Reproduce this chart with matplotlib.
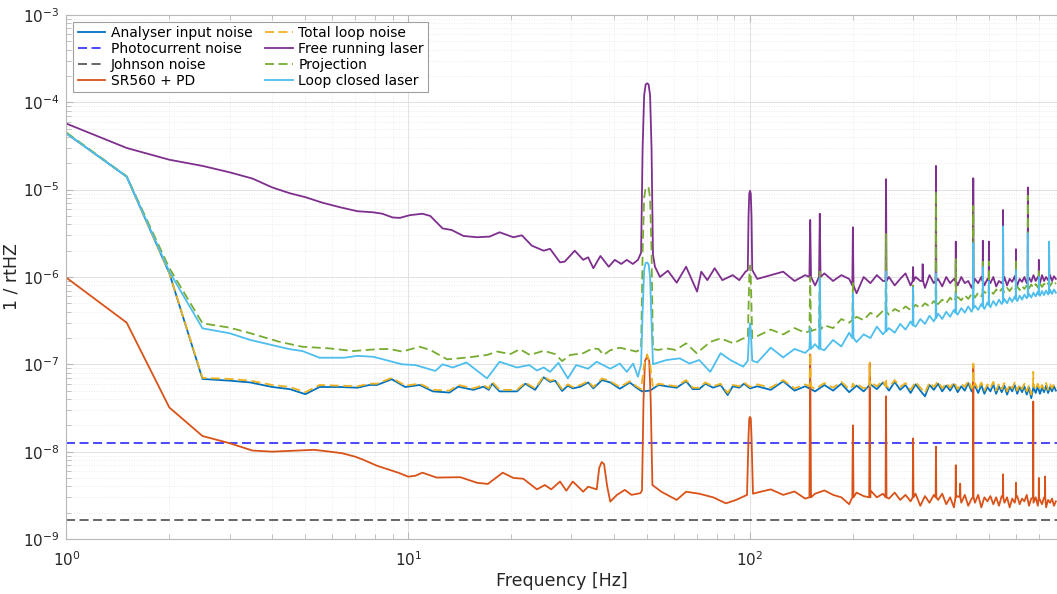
import numpy as np
import matplotlib
matplotlib.use('Agg')
import matplotlib.pyplot as plt
from matplotlib.ticker import LogLocator, NullFormatter

# ---- data (Hz, 1/rtHz) ----
# common grid for the dense high-frequency part (values typed per series)
f_hi = np.arange(105, 790, 10)

# Free running laser
free_f = [1, 1.5, 2, 2.5, 3, 3.5, 4, 4.5, 5, 5.6,
          6.3, 7.1, 7.9, 8.4, 9, 9.45, 10.1, 11, 11.6, 12.6,
          13.4, 14.5, 15.9, 17.3, 18.5, 20.3, 21.5, 23, 24.9, 26,
          27.8, 28.7, 30.7, 32.5, 33.6, 34.8, 36.5, 38.6, 40.2, 42,
          43.6, 45.4, 47, 48, 48.5, 49, 49.5, 50, 50.5, 51,
          51.5, 52, 52.7, 54.5, 57.5, 61, 65, 70, 72, 75,
          78.8, 83, 89, 93, 97, 98.5, 99, 99.5, 100, 100.5,
          101, 101.5]
free_v = [5.7e-5, 3.0e-5, 2.2e-5, 1.87e-5, 1.58e-5, 1.34e-5, 1.06e-5, 9.1e-6, 8.2e-6, 7.1e-6,
          6.3e-6, 5.66e-6, 5.5e-6, 5.3e-6, 4.8e-6, 4.75e-6, 5.1e-6, 5.3e-6, 5.0e-6, 3.6e-6,
          3.45e-6, 2.95e-6, 2.85e-6, 2.9e-6, 3.25e-6, 2.85e-6, 3.0e-6, 2.28e-6, 2.0e-6, 2.1e-6,
          1.47e-6, 1.5e-6, 2.0e-6, 1.57e-6, 1.68e-6, 1.26e-6, 1.74e-6, 1.31e-6, 1.57e-6, 1.41e-6,
          1.57e-6, 1.41e-6, 1.57e-6, 1.9e-6, 3e-5, 1.2e-4, 1.6e-4, 1.65e-4, 1.6e-4, 1.2e-4,
          3e-5, 1.8e-6, 1.31e-6, 1.0e-6, 1.18e-6, 8.6e-7, 1.31e-6, 6.8e-7, 1.15e-6, 9.2e-7,
          1.26e-6, 9.2e-7, 1.05e-6, 9.2e-7, 1.15e-6, 1.2e-6, 5e-6, 9e-6, 9.7e-6, 9e-6,
          5e-6, 1.2e-6]
free_hi = [9.5, 10.5, 11.5, 9.0, 10.5, 8.0, 11.0, 9.0, 10.5, 9.5,
           6.5, 10.0, 8.5, 10.5, 9.0, 10.0, 8.0, 9.5, 11.0, 8.0,
           10.0, 9.0, 7.5, 10.5, 8.5, 9.5, 7.8, 10.0, 8.5, 9.5,
           8.0, 10.0, 8.5, 9.0, 7.5, 9.5, 8.5, 10.0, 8.0, 9.5,
           8.5, 10.0, 7.8, 9.0, 8.5, 10.0, 8.0, 9.5, 8.8, 10.2,
           8.0, 9.5, 8.8, 10.0, 8.5, 9.8, 8.8, 10.5, 9.0, 10.0,
           8.5, 10.5, 9.0, 10.0, 9.2, 10.5, 9.0, 10.2, 9.5]  # x1e-7
free_pk_f = [150, 160, 200, 250, 300, 320, 350, 400, 450, 480, 500, 550, 600, 650, 700, 750]
free_pk_v = [4.5e-6, 5.3e-6, 3.7e-6, 1.32e-5, 1.3e-6, 1.4e-6, 1.87e-5, 2.54e-6,
             1.35e-5, 2.6e-6, 2.54e-6, 5.85e-6, 2.08e-6, 1.06e-5, 1.57e-6, 2.5e-6]
free_pk_floor = [1.0e-6, 1.0e-6, 8e-7, 9e-7, 9e-7, 9e-7, 9e-7, 9e-7,
                 8.5e-7, 9e-7, 9e-7, 9e-7, 9e-7, 9.5e-7, 9.5e-7, 9.5e-7]

# Projection
proj_f = [1, 1.5, 2, 2.5, 3, 3.45, 4.2, 4.9, 5.9, 6.9,
          8.1, 8.8, 9.6, 10.8, 11.6, 13, 15, 17, 18.2, 19.9,
          21.2, 22.7, 24.9, 26.9, 28.2, 29.8, 32.5, 34.6, 36, 37.3,
          39, 41.6, 44.5, 46.5, 48, 48.5, 49, 49.5, 50, 50.5,
          51, 51.5, 52, 53.7, 57, 60.6, 65, 69.8, 76.6, 82,
          89.4, 95.5, 98.5, 99.5, 100, 100.5, 101.5]
proj_v = [4.5e-5, 1.42e-5, 1.26e-6, 2.95e-7, 2.63e-7, 2.27e-7, 1.81e-7, 1.59e-7, 1.52e-7, 1.42e-7,
          1.49e-7, 1.5e-7, 1.4e-7, 1.59e-7, 1.46e-7, 1.14e-7, 1.2e-7, 1.28e-7, 1.4e-7, 1.31e-7,
          1.49e-7, 1.28e-7, 1.43e-7, 1.31e-7, 1.09e-7, 1.28e-7, 1.34e-7, 1.52e-7, 1.5e-7, 1.28e-7,
          1.45e-7, 1.55e-7, 1.46e-7, 1.4e-7, 1.5e-7, 2e-6, 8e-6, 1.05e-5, 1.08e-5, 1.05e-5,
          8e-6, 2e-6, 1.5e-7, 1.46e-7, 1.52e-7, 1.46e-7, 1.74e-7, 1.34e-7, 1.81e-7, 1.98e-7,
          1.74e-7, 1.98e-7, 2e-7, 1e-6, 1.35e-6, 1e-6, 2e-7]
proj_hi = [2.1, 2.5, 2.2, 2.6, 2.3, 2.5, 2.8, 2.6, 3.3, 3.0,
           3.5, 3.2, 3.9, 3.5, 4.1, 3.7, 4.3, 4.0, 4.6, 4.2,
           4.8, 4.4, 5.0, 4.6, 5.3, 4.9, 5.5, 5.0, 5.8, 5.2,
           5.9, 5.4, 6.2, 5.6, 6.4, 5.8, 6.6, 6.0, 6.8, 6.2,
           7.0, 6.4, 7.2, 6.6, 7.3, 6.7, 7.5, 6.9, 7.6, 7.0,
           7.8, 7.1, 7.9, 7.3, 8.0, 7.4, 8.2, 7.5, 8.3, 7.6,
           8.4, 7.7, 8.4, 7.8, 8.5, 7.9, 8.6, 8.0, 8.6]  # x1e-7
proj_pk_f = [150, 160, 200, 250, 300, 350, 400, 450, 480, 500, 550, 600, 650, 700, 750]
proj_pk_v = [1.0e-6, 1.15e-6, 8.5e-7, 3.1e-6, 8e-7, 9.5e-6, 1.6e-6, 6.5e-6,
             1.6e-6, 1.5e-6, 3.0e-6, 1.5e-6, 8.5e-6, 1.2e-6, 2.0e-6]
proj_pk_floor = [2.4e-7, 2.5e-7, 3.2e-7, 4e-7, 4.5e-7, 5e-7, 5.7e-7, 6.2e-7,
                 6.5e-7, 6.6e-7, 7e-7, 7.4e-7, 7.8e-7, 8.0e-7, 8.2e-7]

# Loop closed laser
closed_f = [1, 1.5, 2, 2.5, 3, 3.45, 4.5, 4.9, 5.5, 6.5,
            7.1, 7.9, 8.6, 9.6, 10.5, 12, 12.6, 13.5, 14.8, 17,
            18.5, 20.8, 22.6, 23.8, 24.9, 26, 27.5, 29.3, 31, 33.6,
            35.6, 39, 41.6, 43.6, 45.5, 47, 48, 48.5, 49, 49.5,
            50, 50.5, 51, 51.5, 52, 52.7, 57, 62.3, 66.5, 71,
            76.5, 82, 87.6, 95.5, 98.5, 99.5, 100, 100.5, 101.5]
closed_v = [4.4e-5, 1.41e-5, 1.15e-6, 2.58e-7, 2.27e-7, 1.9e-7, 1.49e-7, 1.42e-7, 1.19e-7, 1.19e-7,
            1.25e-7, 1.22e-7, 1.12e-7, 1.0e-7, 9.8e-8, 8.4e-8, 1.0e-7, 9.2e-8, 1.05e-7, 6.9e-8,
            1.07e-7, 9.2e-8, 9.8e-8, 8.5e-8, 9.2e-8, 8.2e-8, 1.04e-7, 6.9e-8, 9.8e-8, 8.9e-8,
            1.07e-7, 8.9e-8, 1.02e-7, 8.2e-8, 1.02e-7, 7.2e-8, 1.0e-7, 4e-7, 1.2e-6, 1.45e-6,
            1.46e-6, 1.4e-6, 1.0e-6, 3e-7, 1.0e-7, 1.02e-7, 1.12e-7, 1.17e-7, 1.02e-7, 1.12e-7,
            8.2e-8, 1.34e-7, 1.12e-7, 9.4e-8, 1.1e-7, 2.5e-7, 2.95e-7, 2.5e-7, 1.1e-7]
closed_hi = [1.05, 1.55, 1.2, 1.5, 1.35, 1.7, 1.45, 1.9, 1.6, 2.3,
             1.8, 2.2, 2.0, 2.7, 2.2, 2.6, 2.3, 2.9, 2.5, 3.1,
             2.7, 3.3, 2.9, 3.6, 3.1, 3.8, 3.3, 4.0, 3.5, 4.2,
             3.7, 4.4, 3.9, 4.6, 4.0, 4.7, 4.2, 4.9, 4.3, 5.1,
             4.5, 5.3, 4.7, 5.5, 4.9, 5.6, 5.0, 5.8, 5.2, 6.0,
             5.3, 6.1, 5.5, 6.3, 5.7, 6.4, 5.8, 6.6, 6.0, 6.8,
             6.1, 6.9, 6.2, 7.0, 6.3, 7.1, 6.4, 7.2, 6.6]  # x1e-7
closed_pk_f = [150, 160, 200, 250, 300, 350, 400, 450, 480, 500, 550, 600, 650, 700, 750]
closed_pk_v = [2.6e-7, 9.7e-7, 6.5e-7, 1.15e-6, 7.6e-7, 1.1e-6, 6.5e-7, 2.44e-6,
               1.3e-6, 9e-7, 3.8e-6, 1.2e-6, 3.16e-6, 1.0e-6, 2.54e-6]
closed_pk_floor = [1.5e-7, 1.5e-7, 2.0e-7, 2.4e-7, 2.8e-7, 3.4e-7, 3.9e-7, 4.4e-7,
                   4.6e-7, 4.8e-7, 5.2e-7, 5.6e-7, 6.0e-7, 6.3e-7, 6.6e-7]

# Analyser input noise
anal_f = [1, 1.5, 2, 2.5, 3, 3.45, 4, 4.5, 5, 5.5,
          6.3, 7.1, 7.7, 8.1, 8.95, 9.8, 10.8, 11.8, 13.2, 14,
          15.5, 16.6, 17.2, 17.6, 18.5, 20.8, 22, 23.5, 24.9, 26,
          26.9, 28.2, 29.3, 30.3, 31.9, 33.6, 34.8, 36.9, 39, 41.6,
          44.5, 46.5, 48.3, 51, 54, 57, 61, 65, 68, 71,
          74, 78, 82, 86, 89, 93, 96, 100]
anal_v = [4.4e-5, 1.41e-5, 1.1e-6, 6.8e-8, 6.5e-8, 6.2e-8, 5.5e-8, 5.2e-8, 4.55e-8, 5.5e-8,
          5.5e-8, 5.4e-8, 5.8e-8, 5.8e-8, 6.75e-8, 5.5e-8, 5.8e-8, 4.9e-8, 4.75e-8, 5.55e-8,
          5.1e-8, 5.55e-8, 5.1e-8, 6.0e-8, 4.9e-8, 4.9e-8, 6.0e-8, 5.1e-8, 7.1e-8, 6.3e-8,
          6.5e-8, 4.95e-8, 5.7e-8, 5.3e-8, 5.55e-8, 6.2e-8, 5.3e-8, 6.6e-8, 6.2e-8, 5.25e-8,
          6.2e-8, 5.4e-8, 4.9e-8, 5.0e-8, 5.8e-8, 5.6e-8, 5.4e-8, 6.4e-8, 5.2e-8, 5.2e-8,
          6.0e-8, 5.4e-8, 5.8e-8, 4.45e-8, 5.6e-8, 5.4e-8, 6.0e-8, 5.3e-8]
anal_hi = [5.6, 5.1, 6.4, 5.0, 5.6, 4.9, 5.8, 5.0, 6.0, 4.8,
           5.7, 4.9, 5.9, 5.2, 6.2, 5.0, 6.3, 5.1, 5.8, 4.7,
           5.9, 5.0, 4.3, 5.8, 5.1, 6.0, 4.9, 5.7, 5.0, 5.9,
           4.8, 5.6, 5.0, 6.1, 4.9, 5.7, 4.7, 5.8, 4.6, 5.5,
           4.9, 5.9, 4.6, 5.6, 4.8, 5.7, 4.5, 5.5, 4.9, 5.8,
           4.6, 5.5, 4.8, 5.6, 4.5, 5.4, 4.1, 5.5, 4.7, 5.6,
           4.6, 5.4, 4.8, 5.7, 4.7, 5.5, 4.9, 5.6, 5.0]  # x1e-8

# Total loop noise
total_f = [1, 1.5, 2, 2.5, 3, 3.45, 4, 4.5, 5, 5.5,
           6.3, 7.1, 7.7, 8.1, 8.95, 9.8, 10.8, 11.8, 13.2, 14,
           15.5, 16.6, 17.2, 17.6, 18.5, 20.8, 22, 23.5, 24.9, 26,
           26.9, 28.2, 29.3, 30.3, 31.9, 33.6, 34.8, 36.9, 39, 41.6,
           44.5, 46.5, 48, 49, 50, 51, 52, 54, 57, 61,
           65, 68, 71, 74, 78, 82, 86, 89, 93, 96, 100]
total_v = [4.4e-5, 1.41e-5, 1.1e-6, 7.0e-8, 6.8e-8, 6.5e-8, 5.8e-8, 5.5e-8, 4.8e-8, 5.8e-8,
           5.7e-8, 5.6e-8, 6.0e-8, 6.0e-8, 7.0e-8, 5.7e-8, 6.0e-8, 5.1e-8, 5.0e-8, 5.8e-8,
           5.3e-8, 5.8e-8, 5.3e-8, 6.3e-8, 5.1e-8, 5.1e-8, 6.2e-8, 5.3e-8, 7.3e-8, 6.5e-8,
           6.7e-8, 5.2e-8, 5.9e-8, 5.5e-8, 5.8e-8, 6.4e-8, 5.5e-8, 6.9e-8, 6.4e-8, 5.5e-8,
           6.4e-8, 5.6e-8, 5.2e-8, 1.0e-7, 1.3e-7, 1.0e-7, 5.4e-8, 6.0e-8, 5.8e-8, 5.6e-8,
           6.6e-8, 5.4e-8, 5.4e-8, 6.2e-8, 5.6e-8, 6.0e-8, 4.7e-8, 5.8e-8, 5.6e-8, 6.2e-8, 5.5e-8]
total_hi = [5.9, 5.4, 6.6, 5.3, 5.9, 5.2, 6.1, 5.4, 6.3, 5.2,
            6.0, 5.3, 6.3, 5.6, 6.5, 5.4, 6.6, 5.5, 6.1, 5.1,
            6.3, 5.4, 4.7, 6.2, 5.5, 6.4, 5.3, 6.1, 5.4, 6.3,
            5.2, 6.0, 5.5, 6.5, 5.3, 6.1, 5.1, 6.2, 5.0, 5.9,
            5.3, 6.3, 5.0, 6.0, 5.2, 6.1, 4.9, 5.9, 5.3, 6.2,
            5.0, 5.9, 5.2, 6.0, 4.9, 5.8, 4.5, 5.9, 5.1, 6.0,
            5.0, 5.8, 5.2, 6.1, 5.1, 5.9, 5.3, 6.0, 5.4]  # x1e-8
total_pk_f = [150, 200, 224, 250, 450, 674]
total_pk_v = [1.35e-7, 6e-8, 1.05e-7, 6.8e-8, 1.02e-7, 8.2e-8]
total_pk_floor = [5.6e-8, 5.6e-8, 5.6e-8, 5.6e-8, 5.6e-8, 5.6e-8]

# SR560 + PD
sr_f = [1, 1.5, 2, 2.5, 3, 3.5, 4, 4.7, 5.3, 5.9,
        6.4, 7, 7.4, 8.1, 8.8, 9.4, 10, 10.5, 11, 12.1,
        14.2, 15.9, 17.1, 18.9, 20.3, 21.7, 23.8, 25.1, 26.2, 27.8,
        29, 30.3, 32.5, 33.6, 35.6, 36.2, 36.8, 37.4, 38.2, 39,
        40.8, 43, 45, 47.8, 48.3, 48.8, 49.3, 50, 50.7, 51.2,
        51.8, 55, 61, 65, 71, 78, 85, 91, 98, 99,
        99.5, 100, 100.5, 101, 102]
sr_v = [9.8e-7, 3.0e-7, 3.2e-8, 1.51e-8, 1.25e-8, 1.03e-8, 1.0e-8, 1.03e-8, 1.05e-8, 1.0e-8,
        9.6e-9, 8.75e-9, 8.05e-9, 6.9e-9, 6.2e-9, 5.7e-9, 5.17e-9, 5.3e-9, 5.75e-9, 5.05e-9,
        5.1e-9, 4.4e-9, 4.27e-9, 5.75e-9, 5.0e-9, 4.9e-9, 3.7e-9, 4.15e-9, 3.7e-9, 4.55e-9,
        3.57e-9, 4.55e-9, 3.48e-9, 3.97e-9, 3.7e-9, 6.5e-9, 7.6e-9, 7.2e-9, 4.0e-9, 2.68e-9,
        3.2e-9, 3.65e-9, 3.2e-9, 3.35e-9, 3.6e-9, 4e-8, 1.1e-7, 1.22e-7, 1.1e-7, 4e-8,
        4.15e-9, 3.48e-9, 2.8e-9, 3.48e-9, 3.3e-9, 3.0e-9, 2.56e-9, 2.8e-9, 3.2e-9, 1.5e-8,
        2.4e-8, 2.5e-8, 2.4e-8, 1.5e-8, 3.3e-9]
sr_hi = [3.4, 3.7, 3.2, 3.5, 2.9, 3.3, 3.6, 3.2, 3.0, 2.5,
         3.4, 3.1, 3.6, 3.0, 3.3, 2.9, 3.4, 2.8, 3.2, 2.7,
         3.3, 2.4, 3.1, 2.6, 3.2, 2.8, 3.3, 2.5, 3.0, 2.3,
         3.1, 2.6, 3.2, 2.4, 2.9, 2.6, 3.2, 2.3, 3.0, 2.7,
         3.1, 2.5, 3.0, 2.4, 3.1, 2.6, 3.0, 2.3, 2.9, 2.6,
         3.1, 2.5, 2.9, 2.7, 3.2, 2.4, 2.9, 2.6, 3.0, 2.4,
         2.8, 2.5, 3.0, 2.3, 2.8, 2.6, 2.9, 2.4, 2.7]  # x1e-9
sr_pk_f = [150, 200, 224, 250, 300, 350, 400, 412, 450, 550, 600, 674, 700, 730]
sr_pk_v = [1.3e-7, 2.0e-8, 1.02e-7, 4.3e-8, 1.42e-8, 1.14e-8, 7.0e-9, 4.3e-9,
           9.8e-8, 5.5e-9, 4.4e-9, 3.75e-8, 5.0e-9, 5.2e-9]
sr_pk_floor = [3e-9, 3e-9, 3e-9, 3e-9, 3e-9, 3e-9, 3e-9, 3e-9,
               3e-9, 3e-9, 3e-9, 3e-9, 3e-9, 3e-9]

photo_level = 1.27e-8
johnson_level = 1.65e-9


def spikes(centres, heights, floor, hw=0.8):
    c = np.asarray(centres, float)
    f = np.column_stack([c - hw, c, c + hw]).ravel()
    v = np.column_stack([floor, heights, floor]).ravel()
    return f, v


def join(*parts):
    f = np.concatenate([np.asarray(p[0], float) for p in parts])
    v = np.concatenate([np.asarray(p[1], float) for p in parts])
    o = np.argsort(f, kind='stable')
    return f[o], v[o]


free = join((free_f, free_v), (f_hi, np.array(free_hi) * 1e-7),
            spikes(free_pk_f, free_pk_v, free_pk_floor))
proj = join((proj_f, proj_v), (f_hi, np.array(proj_hi) * 1e-7),
            spikes(proj_pk_f, proj_pk_v, proj_pk_floor))
closed = join((closed_f, closed_v), (f_hi, np.array(closed_hi) * 1e-7),
              spikes(closed_pk_f, closed_pk_v, closed_pk_floor))
anal = join((anal_f, anal_v), (f_hi, np.array(anal_hi) * 1e-8))
total = join((total_f, total_v), (f_hi, np.array(total_hi) * 1e-8),
             spikes(total_pk_f, total_pk_v, total_pk_floor))
sr = join((sr_f, sr_v), (f_hi, np.array(sr_hi) * 1e-9),
          spikes(sr_pk_f, sr_pk_v, sr_pk_floor))

# ---- figure ----
fig = plt.figure(figsize=(10.57, 5.94), dpi=100)
ax = fig.add_axes([0.0629, 0.0926, 0.9371, 0.8822])

lw = 1.3
dash = (0, (5, 2.5))
ax.plot(*anal, color='#0072BD', lw=lw, label='Analyser input noise')
ax.axhline(photo_level, color='#3a3aff', lw=lw, ls=dash, label='Photocurrent noise')
ax.axhline(johnson_level, color='#5a5a5a', lw=lw, ls=dash, label='Johnson noise')
ax.plot(*sr, color='#D95319', lw=lw, label='SR560 + PD')
ax.plot(*total, color='#EDB120', lw=lw, ls=dash, label='Total loop noise')
ax.plot(*free, color='#7E2F8E', lw=lw, label='Free running laser')
ax.plot(*proj, color='#77AC30', lw=lw, ls=dash, label='Projection')
ax.plot(*closed, color='#4DBEEE', lw=lw, label='Loop closed laser')

ax.set_xscale('log')
ax.set_yscale('log')
ax.set_xlim(1, 791)
ax.set_ylim(1e-9, 1e-3)

ax.xaxis.set_major_locator(LogLocator(base=10, numticks=10))
ax.xaxis.set_minor_locator(LogLocator(base=10, subs=np.arange(2, 10), numticks=20))
ax.yaxis.set_major_locator(LogLocator(base=10, numticks=10))
ax.yaxis.set_minor_locator(LogLocator(base=10, subs=np.arange(2, 10), numticks=20))
ax.xaxis.set_minor_formatter(NullFormatter())
ax.yaxis.set_minor_formatter(NullFormatter())

ax.grid(True, which='major', color='#e2e2e2', lw=0.7, ls='-')
ax.grid(True, which='minor', color='#e6e6e6', lw=0.6, ls=(0, (1, 2)))
ax.set_axisbelow(True)

for s in ['left', 'bottom', 'top']:
    ax.spines[s].set_color('#b8b8b8')
    ax.spines[s].set_linewidth(0.8)
ax.spines['right'].set_visible(False)
ax.tick_params(which='both', direction='in', top=True, right=False,
               color='#b8b8b8', labelcolor='#262626', labelsize=11)
ax.tick_params(which='major', length=5)
ax.tick_params(which='minor', length=3.5)
ax.tick_params(axis='x', which='major', pad=8)
ax.tick_params(axis='y', which='major', pad=5)

ax.set_xlabel('Frequency [Hz]', fontsize=12.5, color='#262626', labelpad=2)
ax.set_ylabel('1 / rtHZ', fontsize=12.5, color='#262626', labelpad=2)

leg = ax.legend(loc='upper left', ncol=2, fontsize=10, frameon=True, fancybox=False,
                edgecolor='#a0a0a0', framealpha=1, handlelength=2.0,
                handletextpad=0.4, columnspacing=0.9, labelspacing=0.15,
                borderpad=0.3, borderaxespad=0.5)
leg.get_frame().set_linewidth(0.8)

fig.savefig('out.png', dpi=100)
